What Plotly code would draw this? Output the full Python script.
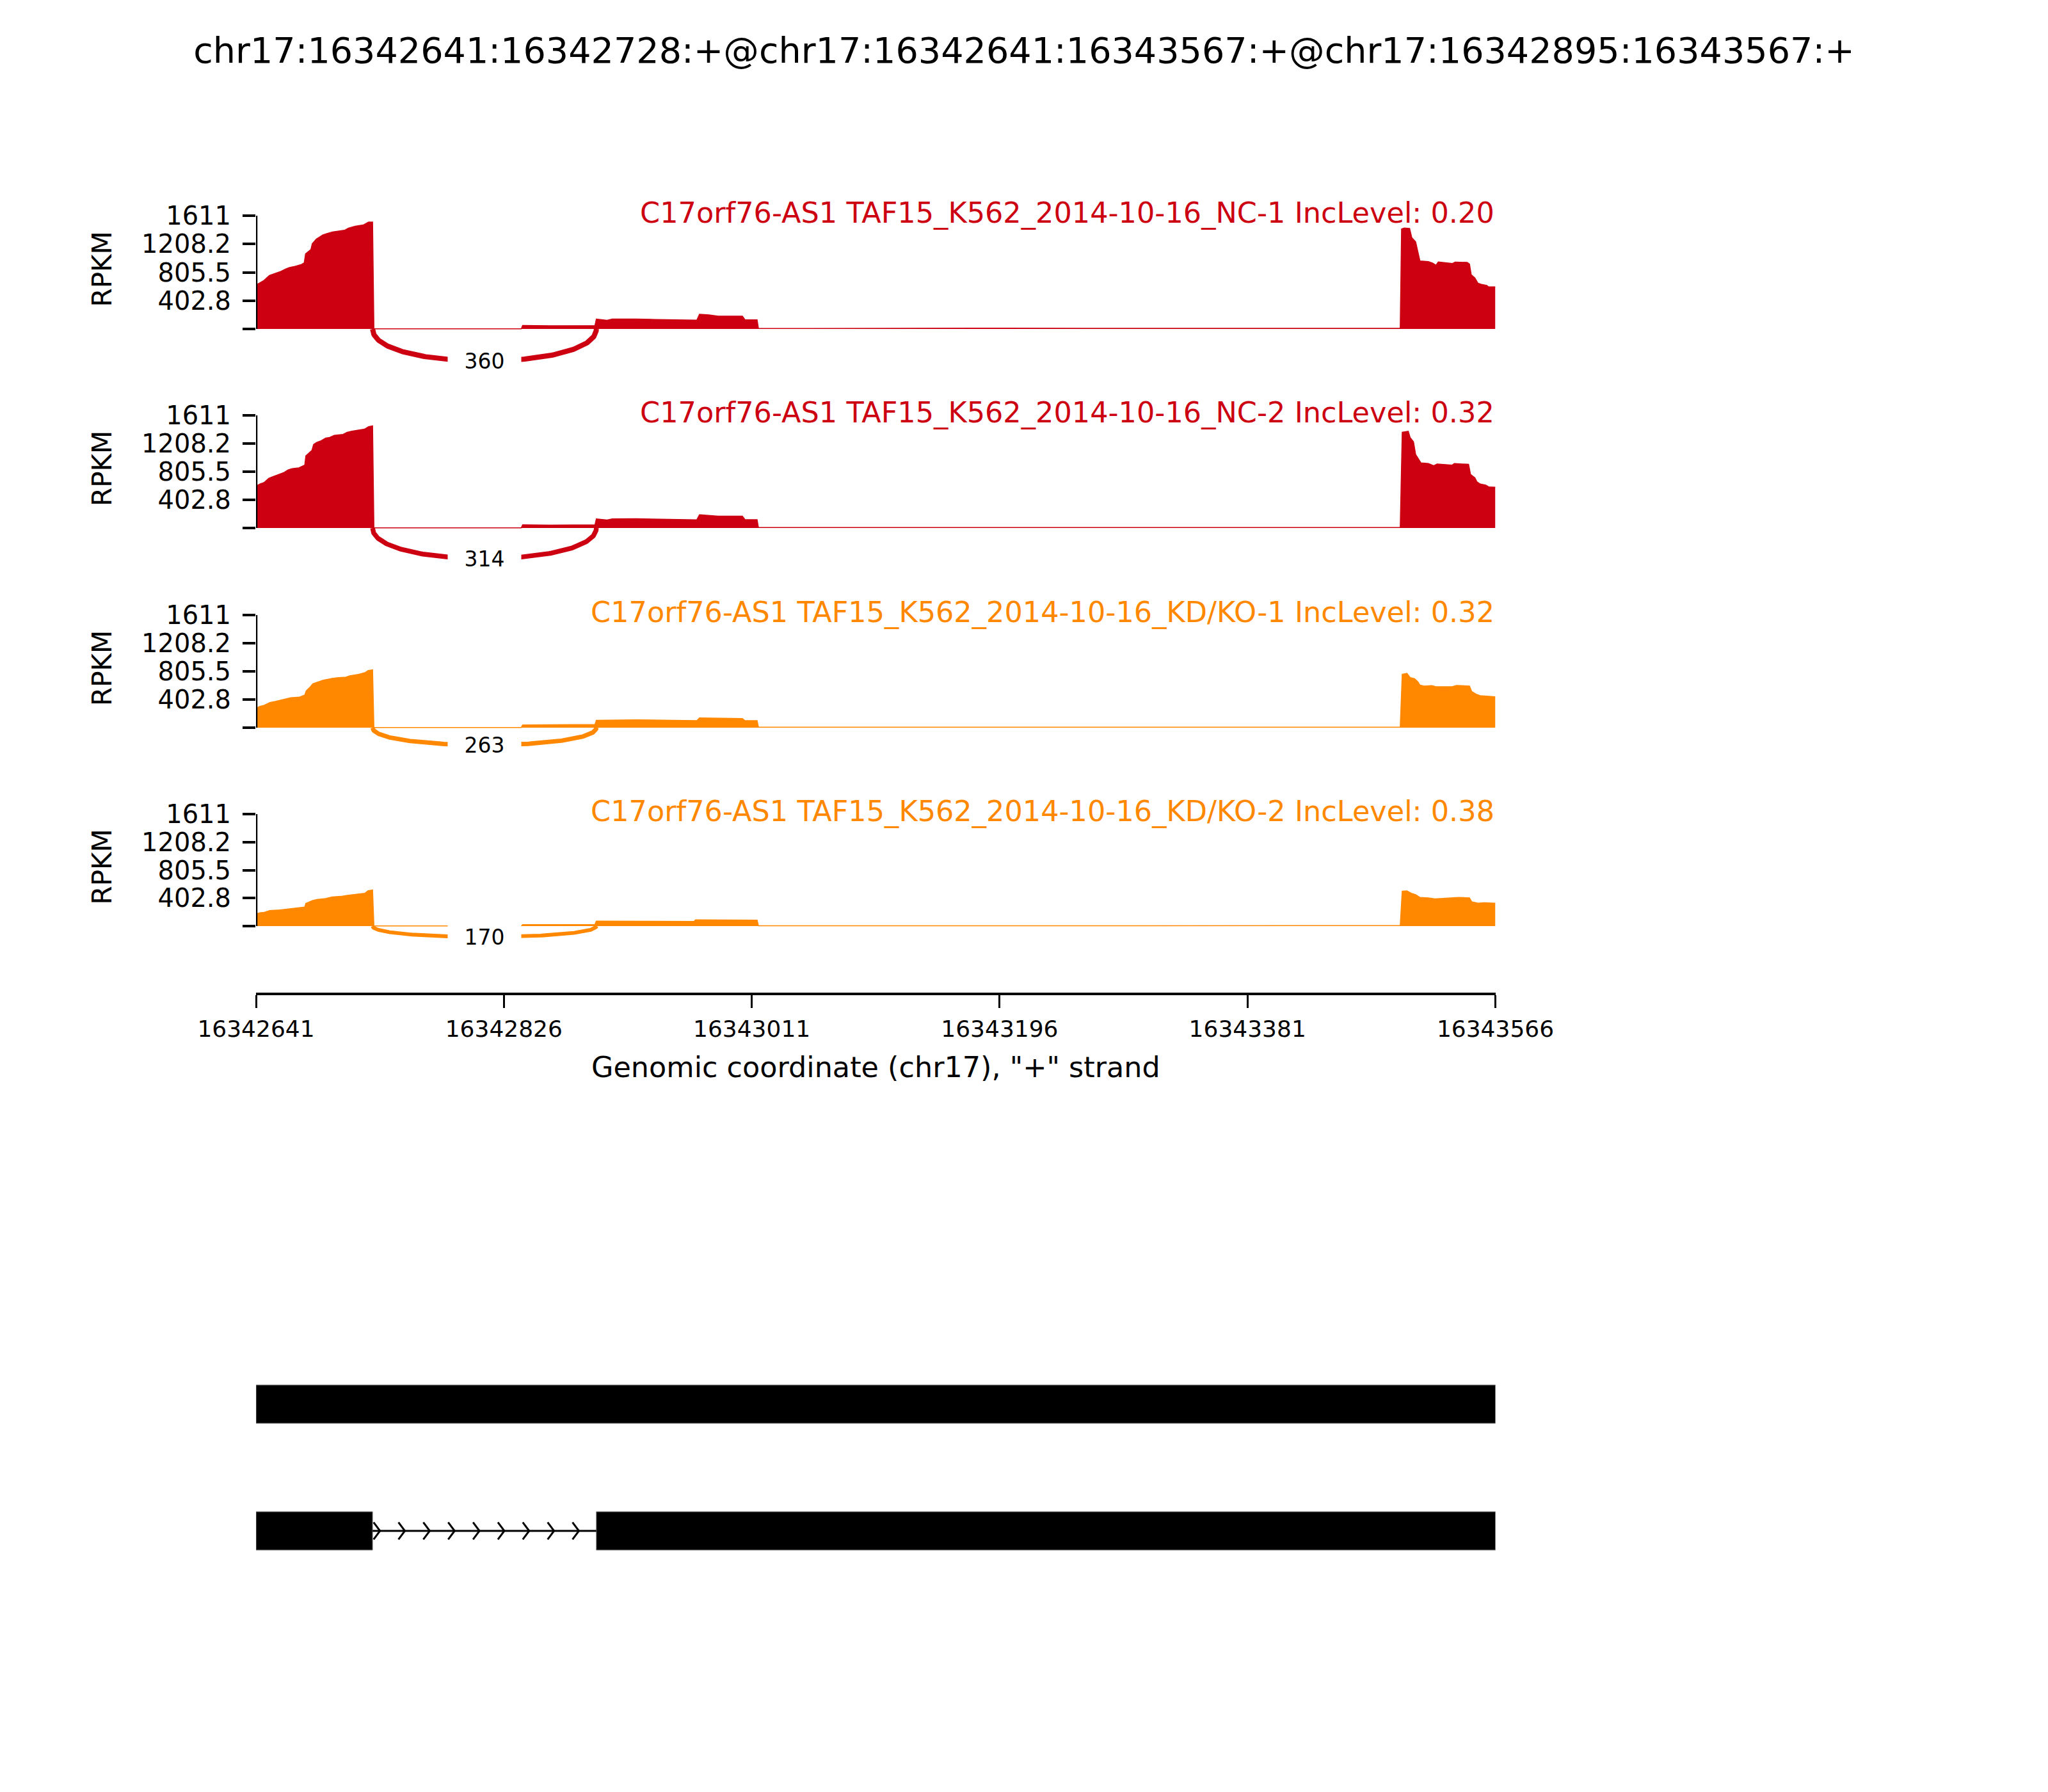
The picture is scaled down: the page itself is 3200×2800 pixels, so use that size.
import numpy as np
import plotly.graph_objects as go

W, H = 3200, 2800

# ---------------- data ----------------
region_start = 16342641
region_end = 16343566
chrom = "chr17"
title_text = "chr17:16342641:16342728:+@chr17:16342641:16343567:+@chr17:16342895:16343567:+"

x_ticks = [16342641, 16342826, 16343011, 16343196, 16343381, 16343566]
y_max = 1611

exon1_start = 16342641
exon1_end = 16342728
exon2_start = 16342895
exon3_start = 16343496

sample_names = [
    "C17orf76-AS1 TAF15_K562_2014-10-16_NC-1",
    "C17orf76-AS1 TAF15_K562_2014-10-16_NC-2",
    "C17orf76-AS1 TAF15_K562_2014-10-16_KD/KO-1",
    "C17orf76-AS1 TAF15_K562_2014-10-16_KD/KO-2",
]
inc_levels = [0.20, 0.32, 0.32, 0.38]
junction_counts = [360, 314, 263, 170]
sample_colors = ["#CC0011", "#CC0011", "#FF8800", "#FF8800"]

# exon 1 coverage (offset from exon1_start, RPKM)
nc1_e1_off = [0, 3, 6, 10, 14, 18, 22, 25, 29, 34, 36, 37, 41, 42, 45, 50, 57, 66, 69, 74, 80, 84, 87]
nc1_e1_val = [624, 655, 691, 760, 784, 814, 851, 875, 890, 917, 941, 1068, 1131, 1213, 1279, 1339, 1379, 1403, 1433, 1460, 1478, 1520, 1520]
nc2_e1_off = [0, 3, 6, 9.5, 12.7, 17.6, 21, 24, 27, 32, 35.6, 36.4, 37.2, 38.8, 41.8, 43, 45.4, 48.6, 52, 55, 58.4, 65, 68, 71.5, 76, 81, 84, 87]
nc2_e1_val = [598, 629, 650, 710, 734, 771, 795, 831, 849, 861, 891, 900, 1030, 1061, 1112, 1194, 1224, 1248, 1287, 1296, 1324, 1339, 1369, 1384, 1399, 1414, 1450, 1460]
kd1_e1_off = [0, 2.9, 6.2, 10.3, 14.4, 19.3, 22.5, 25.8, 32.3, 36.4, 37.5, 40.5, 42.4, 45.4, 50.3, 56.8, 61.7, 66.6, 69.9, 76.4, 81.3, 83.7, 87]
kd1_e1_val = [275, 305, 320, 360, 375, 397, 412, 427, 436, 467, 528, 583, 628, 650, 680, 705, 717, 720, 741, 763, 787, 818, 827]
kd2_e1_off = [0, 2.9, 6.2, 10.3, 16, 22.5, 29, 36.4, 37.2, 42.1, 45.4, 51.9, 56.8, 63.3, 68.2, 74.7, 81.3, 83.7, 87]
kd2_e1_val = [174, 192, 198, 223, 229, 244, 259, 275, 326, 366, 381, 397, 418, 427, 442, 458, 473, 510, 519]

# intron / exon 2 / downstream coverage (absolute position, RPKM)
nc1_mid_pos = [16342729, 16342839, 16342840, 16342860, 16342894, 16342895, 16342903, 16342907, 16342925, 16342939, 16342954, 16342970, 16342972, 16342979, 16342986, 16343004, 16343006, 16343015, 16343016, 16343060, 16343120, 16343200, 16343260, 16343330, 16343400, 16343460, 16343495]
nc1_mid_val = [3, 3, 50, 45, 48, 140, 122, 140, 142, 135, 128, 125, 209, 200, 183, 183, 130, 130, 6, 8, 10, 12, 9, 7, 6, 8, 8]
nc2_mid_pos = [16342729, 16342839, 16342840, 16342860, 16342894, 16342895, 16342903, 16342907, 16342925, 16342939, 16342954, 16342970, 16342972, 16342979, 16342986, 16343004, 16343006, 16343015, 16343016, 16343060, 16343120, 16343200, 16343260, 16343330, 16343400, 16343460, 16343495]
nc2_mid_val = [3, 3, 45, 42, 45, 130, 115, 130, 132, 126, 120, 117, 190, 182, 170, 170, 120, 120, 6, 8, 9, 11, 8, 7, 6, 7, 7]
kd1_mid_pos = [16342729, 16342839, 16342840, 16342894, 16342895, 16342925, 16342970, 16342972, 16343004, 16343006, 16343015, 16343016, 16343100, 16343200, 16343300, 16343400, 16343495]
kd1_mid_val = [3, 3, 40, 45, 105, 112, 100, 140, 130, 100, 100, 6, 8, 9, 7, 6, 7]
kd2_mid_pos = [16342729, 16342839, 16342840, 16342894, 16342895, 16342930, 16342968, 16342969, 16343015, 16343016, 16343100, 16343200, 16343300, 16343400, 16343495]
kd2_mid_val = [2, 2, 21, 24, 72, 66, 66, 90, 85, 5, 6, 7, 5, 5, 6]

# exon 3 coverage (offset from exon3_start, RPKM)
nc1_e3_off = [0, 2, 6, 7.6, 10.5, 12, 13.7, 20, 23, 25.7, 27.4, 38, 40, 49, 50.7, 52, 54.7, 57, 59.5, 63.5, 65, 70]
nc1_e3_val = [1421, 1436, 1430, 1300, 1240, 1104, 967, 958, 937, 907, 952, 931, 952, 946, 922, 771, 726, 650, 635, 620, 598, 598]
nc2_e3_off = [0.5, 5, 6.4, 8.9, 10.5, 12, 14.5, 20, 24, 26.5, 37.8, 39.4, 50, 51.5, 54.7, 56.3, 58.7, 62.8, 65, 69.2, 70]
nc2_e3_val = [1369, 1384, 1293, 1233, 1052, 1006, 931, 922, 891, 916, 900, 922, 910, 765, 719, 659, 629, 613, 589, 583, 583]
kd1_e3_off = [0.5, 4, 6.4, 9.7, 12.1, 13.7, 16.9, 22.5, 25.7, 37.8, 41, 50.7, 52.3, 56.3, 58.7, 65.2, 69.2, 70]
kd1_e3_val = [763, 778, 717, 702, 656, 610, 595, 601, 586, 586, 604, 595, 519, 473, 458, 452, 442, 442]
kd2_e3_off = [0.5, 4, 7.2, 10.5, 13.7, 20.1, 24.9, 31.4, 42.6, 50.7, 52.3, 57.1, 61.9, 69.2, 70]
kd2_e3_val = [503, 506, 473, 452, 412, 406, 391, 400, 412, 406, 351, 330, 336, 330, 330]

# transcripts (exon lists)
transcript_exons = [
    [(16342641, 16343567)],
    [(16342641, 16342728), (16342895, 16343567)],
]

# ---------------- layout helpers ----------------
SH = 8  # compensate page body margin
X0_PX, X1_PX = 400 - SH, 2336.5 - SH
panel_top_px = [337 - SH, 649 - SH, 961 - SH, 1272 - SH]
panel_base_px = [514 - SH, 825 - SH, 1137 - SH, 1447 - SH]
y_low = 700
xaxis_px = 1553 - SH


def py(px):
    return 1 - px / H


def build_cov(e1o, e1v, mp, mv, e3o, e3v):
    xs = [exon1_start + o for o in e1o] + list(mp) + [exon3_start + o for o in e3o]
    ys = list(e1v) + list(mv) + list(e3v)
    return xs, ys


samples = [
    build_cov(nc1_e1_off, nc1_e1_val, nc1_mid_pos, nc1_mid_val, nc1_e3_off, nc1_e3_val),
    build_cov(nc2_e1_off, nc2_e1_val, nc2_mid_pos, nc2_mid_val, nc2_e3_off, nc2_e3_val),
    build_cov(kd1_e1_off, kd1_e1_val, kd1_mid_pos, kd1_mid_val, kd1_e3_off, kd1_e3_val),
    build_cov(kd2_e1_off, kd2_e1_val, kd2_mid_pos, kd2_mid_val, kd2_e3_off, kd2_e3_val),
]

fig = go.Figure()
annotations = []
shapes = []
FONT = "DejaVu Sans"

ytickvals = [y_max * i / 4 for i in range(5)]
yticktext = ["", "%.1f" % ytickvals[1], "%.1f" % ytickvals[2], "%.1f" % ytickvals[3], "%d" % y_max]

layout_axes = {}
for i, (xs, ys) in enumerate(samples):
    yname = "y" if i == 0 else "y%d" % (i + 1)
    ykey = "yaxis" if i == 0 else "yaxis%d" % (i + 1)
    color = sample_colors[i]
    top, base = panel_top_px[i], panel_base_px[i]
    bottom = base + y_low * (base - top) / y_max
    layout_axes[ykey] = dict(
        domain=[py(bottom), py(top)], range=[-y_low, y_max], anchor="x", automargin=False,
        showgrid=False, zeroline=False, showline=False,
        tickvals=ytickvals, ticktext=yticktext, ticks="outside", ticklen=20, tickwidth=4,
        tickcolor="black", ticklabelstandoff=10,
        tickfont=dict(size=40, color="black", family=FONT),
    )
    # coverage
    fig.add_trace(go.Scatter(x=xs, y=ys, xaxis="x", yaxis=yname, mode="lines",
                             fill="tozeroy", fillcolor=color,
                             line=dict(color=color, width=1.5), hoverinfo="skip",
                             showlegend=False))
    # junction arc (cubic bezier)
    depth_h = 0.4 * max(ys)
    t = np.linspace(0, 1, 200)
    ax_ = (1 - t) ** 3 * exon1_end + 3 * (1 - t) ** 2 * t * exon1_end + 3 * (1 - t) * t ** 2 * exon2_start + t ** 3 * exon2_start
    ay_ = -3 * t * (1 - t) * depth_h
    lw = 4 + 4 * junction_counts[i] / max(junction_counts)
    fig.add_trace(go.Scatter(x=ax_, y=ay_, xaxis="x", yaxis=yname, mode="lines",
                             line=dict(color=color, width=lw), hoverinfo="skip",
                             showlegend=False))
    annotations.append(dict(x=(exon1_end + exon2_start) / 2, y=-0.75 * depth_h, xref="x", yref=yname,
                            text=str(junction_counts[i]), showarrow=False, bgcolor="white",
                            width=112, height=40, font=dict(size=33, color="black", family=FONT),
                            xanchor="center", yanchor="middle"))
    # y axis spine (0..y_max)
    shapes.append(dict(type="line", xref="x", yref=yname, x0=region_start, x1=region_start,
                       y0=0, y1=y_max, line=dict(color="black", width=4.5)))
    # sample label
    annotations.append(dict(x=X1_PX / W, y=py(top - 4), xref="paper", yref="paper",
                            text="%s IncLevel: %.2f" % (sample_names[i], inc_levels[i]),
                            showarrow=False, xanchor="right", yanchor="middle",
                            font=dict(size=44.6, color=color, family=FONT)))
    # RPKM label
    annotations.append(dict(x=(159 - SH) / W, y=py((top + base) / 2 - 5), xref="paper", yref="paper",
                            text="RPKM", textangle=-90, showarrow=False, xanchor="center",
                            yanchor="middle", font=dict(size=42, color="black", family=FONT)))

# ---------------- gene structure ----------------
g_top_px, g_bot_px = 2100 - SH, 2500 - SH
g_c0, g_step = 2194 - SH, 198
gy_top = (g_top_px - g_c0) / g_step
gy_bot = (g_bot_px - g_c0) / g_step
half_h = 30 / g_step
for k, exons in enumerate(transcript_exons):
    for (s, e) in exons:
        fig.add_trace(go.Scatter(x=[s, e, e, s, s], y=[k - half_h, k - half_h, k + half_h, k + half_h, k - half_h],
                                 xaxis="x", yaxis="y5", mode="lines", fill="toself", fillcolor="black",
                                 line=dict(color="#888888", width=1), hoverinfo="skip", showlegend=False))
    for j in range(len(exons) - 1):
        i_s, i_e = exons[j][1], exons[j + 1][0]
        fig.add_trace(go.Scatter(x=[i_s, i_e], y=[k, k], xaxis="x", yaxis="y5", mode="lines",
                                 line=dict(color="black", width=3), hoverinfo="skip", showlegend=False))
        n_chev = 9
        L = i_e - i_s
        cx, cy = [], []
        for c in range(n_chev):
            tip = i_s + (c + 0.3) * L / n_chev
            cx += [tip - 4.8, tip, tip - 4.8, None]
            cy += [k - 0.068, k, k + 0.068, None]
        fig.add_trace(go.Scatter(x=cx, y=cy, xaxis="x", yaxis="y5", mode="lines",
                                 line=dict(color="black", width=3), hoverinfo="skip", showlegend=False))

layout_axes["yaxis5"] = dict(domain=[py(g_bot_px), py(g_top_px)], range=[gy_bot, gy_top], anchor="x",
                             visible=False, showgrid=False, zeroline=False, automargin=False)

annotations.append(dict(x=(X0_PX + X1_PX) / 2 / W, y=py(1667 - SH), xref="paper", yref="paper",
                        text='Genomic coordinate (%s), "+" strand' % chrom, showarrow=False,
                        xanchor="center", yanchor="middle", font=dict(size=44.5, color="black", family=FONT)))

fig.update_layout(
    width=W, height=H, margin=dict(l=0, r=0, t=0, b=0, autoexpand=False),
    paper_bgcolor="white", plot_bgcolor="white",
    font=dict(family=FONT, color="black"),
    title=dict(text=title_text, x=(W / 2 - SH) / W, xanchor="center", y=py(79 - SH), yanchor="middle",
               font=dict(size=55.6, color="black", family=FONT), automargin=False),
    xaxis=dict(domain=[X0_PX / W, X1_PX / W], range=[region_start, region_end], automargin=False,
               anchor="free", position=py(xaxis_px), showgrid=False, zeroline=False,
               showline=True, linewidth=4, linecolor="black",
               tickvals=x_ticks, ticktext=[str(v) for v in x_ticks],
               ticks="outside", ticklen=20, tickwidth=3, tickcolor="black",
               ticklabelstandoff=2, tickfont=dict(size=36, color="black", family=FONT)),
    annotations=annotations,
    shapes=shapes,
    **layout_axes,
)

fig.write_html("out.html")
